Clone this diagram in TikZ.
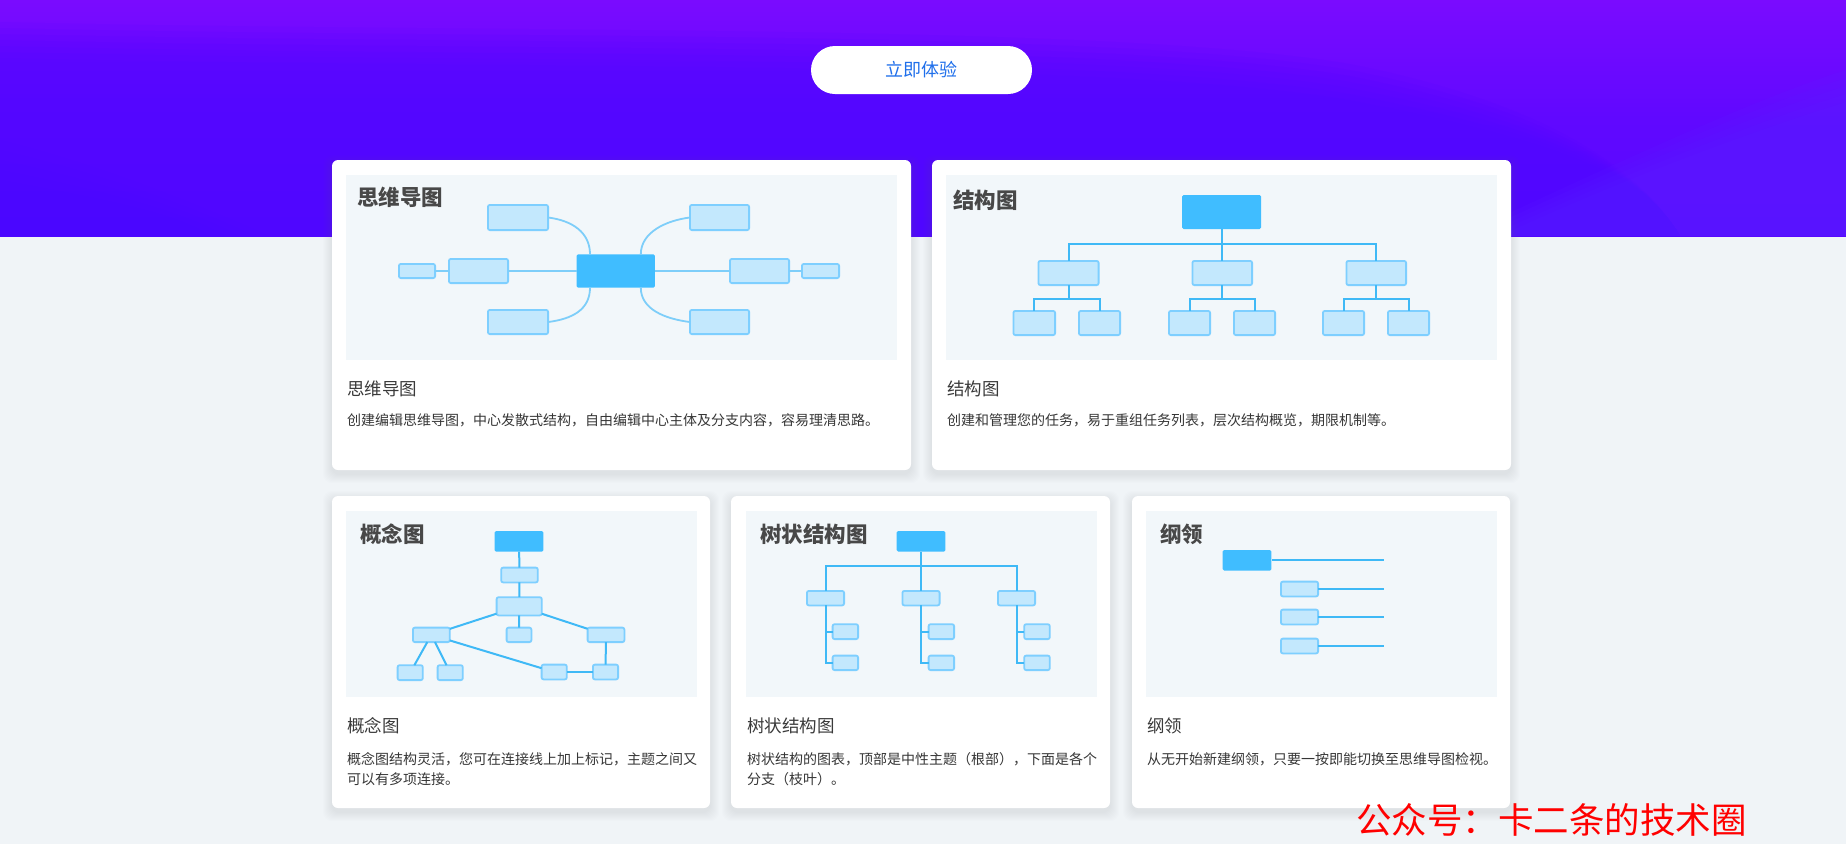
\documentclass[tikz,border=0pt]{standalone}
\usepackage{fontspec}
\setmainfont{Noto Sans CJK SC}
\usetikzlibrary{calc}
\definecolor{pagebg}{HTML}{F0F4F7}
\definecolor{hdrTop}{HTML}{7A0BFF}
\definecolor{hdrMid}{HTML}{6008FF}
\definecolor{hdrBot}{HTML}{5708FF}
\definecolor{hdrDark}{HTML}{4A06FF}
\definecolor{hdrLight}{HTML}{5A22FF}
\definecolor{panelbg}{HTML}{F2F7FA}
\definecolor{dkblue}{HTML}{40BDFF}
\definecolor{ltfill}{HTML}{C3E8FD}
\definecolor{ltborder}{HTML}{7ECFFF}
\definecolor{mlcol}{HTML}{7ECEF9}
\definecolor{slcol}{HTML}{3FB9F6}
\definecolor{ttlcol}{HTML}{484848}
\definecolor{capcol}{HTML}{3A3A3A}
\definecolor{desccol}{HTML}{363636}
\definecolor{btntext}{HTML}{1F6FEB}
\definecolor{shadowcol}{HTML}{5A6E8C}
\tikzset{
  cardfill/.style={fill=white, rounded corners=6pt},
  panelfill/.style={fill=panelbg},
  dkbox/.style={fill=dkblue, draw=none, rounded corners=1.5pt, inner sep=0pt, outer sep=0pt},
  ltbox/.style={fill=ltfill, draw=ltborder, line width=1.8pt, rounded corners=2pt, inner sep=0pt, outer sep=0pt},
  mline/.style={draw=mlcol, line width=1.8pt},
  sline/.style={draw=slcol, line width=2pt},
  ttltxt/.style={anchor=base west, inner sep=0pt, text=ttlcol, font=\bfseries\fontsize{21.5pt}{24pt}\selectfont},
  captxt/.style={anchor=base west, inner sep=0pt, text=capcol, font=\fontsize{17.5pt}{20pt}\selectfont},
  desctxt/.style={anchor=base west, inner sep=0pt, text=desccol, font=\fontsize{14pt}{20pt}\selectfont},
}
\newcommand\lbx[5]{\node[ltbox,minimum width={(#4)-(#2)-1.8},minimum height={(#5)-(#3)-1.8}] (#1) at ({((#2)+(#4))/2},{((#3)+(#5))/2}) {};}
\newcommand\dbx[5]{\node[dkbox,minimum width={(#4)-(#2)},minimum height={(#5)-(#3)}] (#1) at ({((#2)+(#4))/2},{((#3)+(#5))/2}) {};}
\newcommand\cardbox[4]{%
  \foreach \i in {1,...,9} {\fill[shadowcol, opacity=0.010, rounded corners=9pt] ({#1-\i},{#2-\i+4}) rectangle ({#3+\i},{#4+\i+4});}
  \fill[cardfill] (#1,#2) rectangle (#3,#4);}
\begin{document}
\begin{tikzpicture}[x=1pt,y=-1pt]
\useasboundingbox (0,0) rectangle (1846,844);
% page background
\fill[pagebg] (0,0) rectangle (1846,844);
% header
\shade[top color=hdrTop, bottom color=hdrBot, middle color=hdrMid] (0,0) rectangle (1846,236);
\foreach \k in {0,...,6} {
  \fill[hdrDark, opacity=0.09] (0,{22+6*\k}) .. controls (500,{34+6*\k}) and (1100,{22+6*\k}) .. (1350,{64+6*\k}) .. controls (1550,{104+6*\k}) and (1640,170) .. (1680,236) -- (0,236) -- cycle;
}
\foreach \k in {0,...,4} {
  \fill[hdrLight, opacity=0.12] ({1460+10*\k},236) .. controls ({1580+10*\k},180) and (1750,{100+8*\k}) .. (1846,{70+8*\k}) -- (1846,236) -- cycle;
}
\foreach \k in {0,...,4} {
  \fill[hdrDark, opacity=0.1] (0,{140+10*\k}) .. controls (120,{170+8*\k}) and ({220-10*\k},215) .. ({270-15*\k},236) -- (0,236) -- cycle;
}
% button
\fill[white, rounded corners=24pt] (811,46) rectangle (1032,94);
\node[anchor=base, inner sep=0pt, text=btntext, font=\fontsize{18pt}{20pt}\selectfont] (btn) at (921.5,76.5) {立即体验};
% cards
\cardbox{332}{160}{911}{470}
\cardbox{932}{160}{1511}{470}
\cardbox{332}{496}{710}{808}
\cardbox{731}{496}{1110}{808}
\cardbox{1132}{496}{1510}{808}
% panels
\fill[panelfill] (346,175) rectangle (897,360);
\fill[panelfill] (946,175) rectangle (1497,360);
\fill[panelfill] (346,511) rectangle (697,697);
\fill[panelfill] (746,511) rectangle (1097,697);
\fill[panelfill] (1146,511) rectangle (1497,697);
% panel titles
\node[ttltxt] (t1) at (357,205) {思维导图};
\node[ttltxt] (t2) at (953,208) {结构图};
\node[ttltxt] (t3) at (360,542) {概念图};
\node[ttltxt] (t4) at (760,542) {树状结构图};
\node[ttltxt] (t5) at (1160,542) {纲领};
% captions
\node[captxt] (k1) at (347,395) {思维导图};
\node[captxt] (k2) at (947,395) {结构图};
\node[captxt] (k3) at (347,732) {概念图};
\node[captxt] (k4) at (747,732) {树状结构图};
\node[captxt] (k5) at (1147,732) {纲领};
% descriptions
\node[desctxt] (d1) at (347,425) {创建编辑思维导图，中心发散式结构，自由编辑中心主体及分支内容，容易理清思路。};
\node[desctxt] (d2) at (947,425) {创建和管理您的任务，易于重组任务列表，层次结构概览，期限机制等。};
\node[desctxt] (d3a) at (347,764.5) {概念图结构灵活，您可在连接线上加上标记，主题之间又};
\node[desctxt] (d3b) at (347,784) {可以有多项连接。};
\node[desctxt] (d4a) at (747,764.5) {树状结构的图表，顶部是中性主题（根部），下面是各个};
\node[desctxt] (d4b) at (747,784) {分支（枝叶）。};
\node[desctxt] (d5) at (1147,764.5) {从无开始新建纲领，只要一按即能切换至思维导图检视。};
% ---------- mind map ----------
\dbx{c}{576.5}{254.3}{654.8}{287.7}
\lbx{tl}{487}{204}{549}{231}
\lbx{ml}{448}{258}{509}{284}
\lbx{fl}{398}{263}{436}{279}
\lbx{bl}{487}{309}{549}{335}
\lbx{tr}{689}{204}{750}{231}
\lbx{mr}{729}{258}{790}{284}
\lbx{fr}{801}{263}{840}{279}
\lbx{br}{689}{309}{750}{335}
\draw[mline] (fl.east) -- (ml.west);
\draw[mline] (ml.east) -- (c.west);
\draw[mline] (c.east) -- (mr.west);
\draw[mline] (mr.east) -- (fr.west);
\draw[mline] (tl.east) .. controls +(24,3) and +(0,-22) .. ([xshift=13.5pt]c.north west);
\draw[mline] ([xshift=13.5pt]c.south west) .. controls +(0,22) and +(24,-3) .. (bl.east);
\draw[mline] ([xshift=-14pt]c.north east) .. controls +(0,-22) and +(-24,3) .. (tr.west);
\draw[mline] ([xshift=-14pt]c.south east) .. controls +(0,22) and +(-24,-3) .. (br.west);
% ---------- structure chart ----------
\dbx{s0}{1182}{195}{1261}{229}
\lbx{s1}{1037.5}{260}{1099.5}{286}
\lbx{s2}{1191.5}{260}{1253}{286}
\lbx{s3}{1345.5}{260}{1407}{286}
\lbx{s11}{1012.5}{310}{1056}{336}
\lbx{s12}{1078}{310}{1121}{336}
\lbx{s21}{1168}{310}{1211}{336}
\lbx{s22}{1233}{310}{1276}{336}
\lbx{s31}{1322}{310}{1365}{336}
\lbx{s32}{1387}{310}{1430}{336}
\coordinate (sh1) at (0,244);
\coordinate (sh2) at (0,298.7);
\draw[sline] (s0.south) -- (s0.south |- s2.north);
\draw[sline] (s1.north) -- (s1.north |- sh1) -- (s3.north |- sh1) -- (s3.north);
\foreach \m/\a/\b in {s1/s11/s12, s2/s21/s22, s3/s31/s32} {
  \draw[sline] (\m.south) -- (\m.south |- sh2);
  \draw[sline] (\a.north) -- (\a.north |- sh2) -- (\b.north |- sh2) -- (\b.north);
}
% ---------- concept map ----------
\dbx{n1}{494.7}{531}{543.3}{551.7}
\lbx{n2}{500.3}{566.7}{538.7}{583.3}
\lbx{n3}{495.7}{596.3}{542.7}{616.3}
\lbx{n4}{412}{626.7}{450.7}{643}
\lbx{n5}{505.7}{626.7}{532.3}{643}
\lbx{n6}{586.7}{626.7}{625.3}{643}
\lbx{n7}{396.7}{664.3}{423.7}{681}
\lbx{n8}{436.7}{664.3}{463.7}{681}
\lbx{n9}{540.7}{663.7}{567.7}{680.3}
\lbx{n10}{592}{663.7}{619}{680.3}
\draw[sline] (n1) -- (n2);
\draw[sline] (n2) -- (n3);
\draw[sline] (n3) -- (n4);
\draw[sline] (n3) -- (n5);
\draw[sline] (n3) -- (n6);
\draw[sline] (n4) -- (n7);
\draw[sline] (n4) -- (n8);
\draw[sline] (n4) -- (n9);
\draw[sline] (n9) -- (n10);
\draw[sline] (n6) -- (n10);
% ---------- tree ----------
\dbx{r0}{896.7}{531}{945.3}{551.7}
\lbx{r1}{806}{590}{845}{606.3}
\lbx{r2}{901.5}{590}{940.5}{606.3}
\lbx{r3}{997}{590}{1036}{606.3}
\lbx{r11}{831.7}{623.3}{859}{640}
\lbx{r12}{831.7}{654.7}{859}{671}
\lbx{r21}{927.7}{623.3}{955}{640}
\lbx{r22}{927.7}{654.7}{955}{671}
\lbx{r31}{1023.3}{623.3}{1050.7}{640}
\lbx{r32}{1023.3}{654.7}{1050.7}{671}
\coordinate (rh) at (0,565.7);
\draw[sline] (r0.south) -- (r0.south |- r2.north);
\draw[sline] (r1.north) -- (r1.north |- rh) -- (r3.north |- rh) -- (r3.north);
\foreach \m/\a/\b in {r1/r11/r12, r2/r21/r22, r3/r31/r32} {
  \draw[sline] (\m.south) -- (\m.south |- \b.west) -- (\b.west);
  \draw[sline] (\m.south |- \a.west) -- (\a.west);
}
% ---------- outline ----------
\dbx{o0}{1222.7}{550}{1271.3}{570.7}
\lbx{o1}{1280}{580.7}{1319}{597.3}
\lbx{o2}{1280}{608.7}{1319}{625.3}
\lbx{o3}{1280}{637.7}{1319}{654.3}
\coordinate (oe) at (1384.3,0);
\draw[sline] ([xshift=1pt]o0.east) -- (o0.east -| oe);
\foreach \o in {o1,o2,o3} {\draw[sline] (\o.east) -- (\o.east -| oe);}
% watermark
\node[anchor=base west, inner sep=0pt, text=red, font=\fontsize{35.5pt}{38pt}\selectfont] (wm) at (1356,833) {公众号：卡二条的技术圈};
\end{tikzpicture}
\end{document}
